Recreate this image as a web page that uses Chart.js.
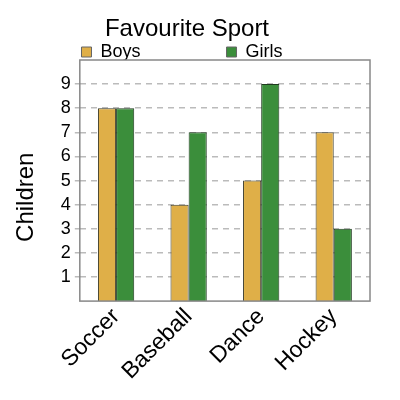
<meta charset="UTF-8">
<title>Favourite Sport</title>
<script src="https://cdn.jsdelivr.net/npm/chart.js"></script>
<style>
  html, body { margin: 0; padding: 0; background: #fff; }
  #wrap { width: 400px; height: 400px; }
</style>
<div id="wrap"><canvas id="sportChart" width="400" height="400"></canvas></div>
<script>
var sports = ['Soccer', 'Baseball', 'Dance', 'Hockey'];
var boys = [8, 4, 5, 7];
var girls = [8, 7, 9, 3];
var yTicks = [1, 2, 3, 4, 5, 6, 7, 8, 9];

Chart.defaults.font.family = '"Liberation Sans", Arial, sans-serif';
Chart.defaults.color = '#000';

// full box round the plot area
var frame = {
    id: 'frame',
    afterDatasetsDraw: function(chart){
        var a = chart.chartArea, c = chart.ctx;
        c.save();
        c.strokeStyle = '#888';
        c.lineWidth = 1.5;
        c.strokeRect(a.left, a.top, a.right - a.left, a.bottom - a.top);
        c.restore();
    }
};

// legend items sit far apart in the reference
var boysPad = '                 ';
var girlsPad = '  ';
// y title sits a bit below the middle of the plot
var yTitlePad = '     ';

var sportChart = new Chart(document.getElementById('sportChart'), {
    type: 'bar',
    data: {
        labels: sports,
        datasets: [{
            label: 'Boys',
            data: boys,
            backgroundColor: '#dfaf48',
            borderColor: '#3a3a2a',
            borderWidth: 1,
            categoryPercentage: 0.5,
            barPercentage: 1
        }, {
            label: 'Girls',
            data: girls,
            backgroundColor: '#3b8e3b',
            borderColor: '#1f3a1f',
            borderWidth: 1,
            categoryPercentage: 0.5,
            barPercentage: 1
        }]
    },
    options: {
        responsive: false,
        animation: false,
        layout: { padding: { left: 4, right: 30, top: 0, bottom: 13 } },
        scales: {
            x: {
                grid: { display: false, drawTicks: false },
                border: { display: false },
                ticks: {
                    font: { size: 23 },
                    minRotation: 45,
                    maxRotation: 45,
                    padding: 2
                }
            },
            y: {
                min: 0,
                max: 10,
                afterBuildTicks: function(axis){
                    axis.ticks = yTicks.map(function(v){ return { value: v }; });
                },
                grid: {
                    color: '#bbb',
                    lineWidth: 1.5,
                    tickLength: 5,
                    borderDash: [6, 5],
                    tickBorderDash: [6, 5]
                },
                border: { display: false, dash: [6, 5] },
                ticks: {
                    font: { size: 18 },
                    padding: 4
                },
                title: {
                    display: true,
                    text: 'Children' + yTitlePad,
                    font: { size: 24 },
                    padding: { top: 8, bottom: 16 }
                }
            }
        },
        plugins: {
            title: {
                display: true,
                text: 'Favourite Sport',
                font: { size: 24, weight: 'normal', lineHeight: 1 },
                padding: { top: 17, bottom: 1 }
            },
            legend: {
                maxHeight: 18,
                labels: {
                    font: { size: 18 },
                    boxWidth: 10,
                    boxHeight: 10,
                    padding: 1,
                    generateLabels: function(chart){
                        return chart.data.datasets.map(function(ds, i){
                            return {
                                text: ds.label + (i === 0 ? boysPad : girlsPad),
                                fillStyle: ds.backgroundColor,
                                strokeStyle: '#666',
                                lineWidth: 1,
                                datasetIndex: i
                            };
                        });
                    }
                }
            },
            tooltip: { enabled: false }
        }
    },
    plugins: [frame]
});
</script>
